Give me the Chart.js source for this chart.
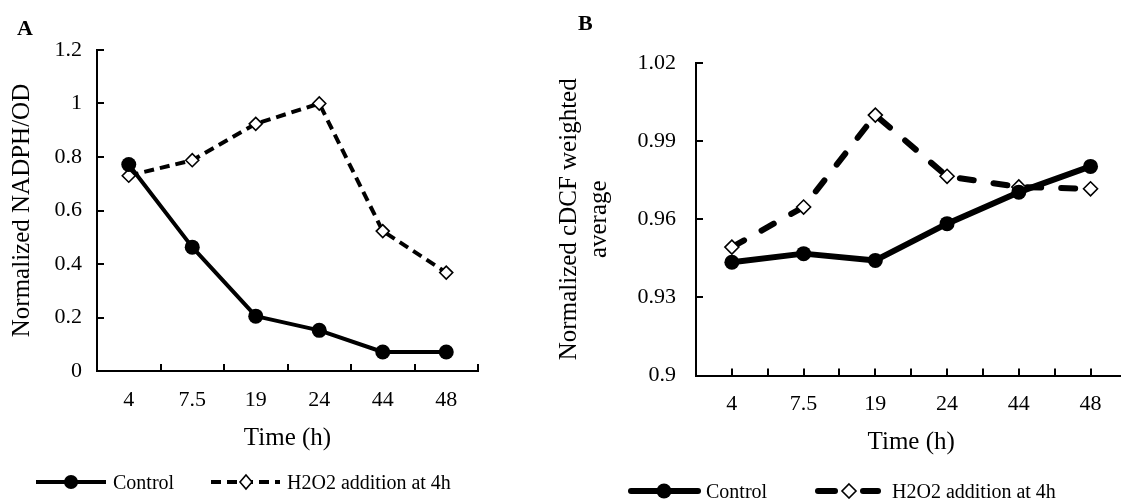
<!DOCTYPE html>
<html><head><meta charset="utf-8">
<script src="https://cdn.jsdelivr.net/npm/chart.js@4.4.1/dist/chart.umd.min.js"></script>
<style>
html,body{margin:0;padding:0;background:#fff;overflow:hidden;width:1121px;height:499px;position:relative;}
canvas{position:absolute;top:0;}
#ca{left:0;}
#cb{left:545px;}
.pl{position:absolute;font:bold 22px "Liberation Serif";color:#000;line-height:1;}
.lt{position:absolute;font:20px "Liberation Serif";color:#000;line-height:20px;white-space:nowrap;}
#leg{position:absolute;left:0;top:0;}
</style></head>
<body>
<canvas id="ca" width="560" height="499"></canvas>
<canvas id="cb" width="590" height="499"></canvas>
<div class="pl" style="left:17px;top:17px;">A</div>
<div class="pl" style="left:578px;top:12px;">B</div>
<svg id="leg" width="1121" height="499">
  <line x1="36" y1="482" x2="106" y2="482" stroke="#000" stroke-width="4"/>
  <circle cx="71" cy="482" r="7" fill="#000"/>
  <line x1="211" y1="482" x2="280" y2="482" stroke="#000" stroke-width="4" stroke-dasharray="10,6"/>
  <path d="M246 475 L252 482 L246 489 L240 482 Z" fill="#fff" stroke="#000" stroke-width="1.6"/>
  <line x1="631" y1="491" x2="698" y2="491" stroke="#000" stroke-width="6" stroke-linecap="round"/>
  <circle cx="664" cy="491" r="7.5" fill="#000"/>
  <line x1="818" y1="491" x2="835" y2="491" stroke="#000" stroke-width="6" stroke-linecap="round"/>
  <line x1="863" y1="491" x2="878" y2="491" stroke="#000" stroke-width="6" stroke-linecap="round"/>
  <path d="M849 484 L856 491 L849 498 L842 491 Z" fill="#fff" stroke="#000" stroke-width="1.6"/>
</svg>
<div class="lt" style="left:113px;top:472px;">Control</div>
<div class="lt" style="left:287px;top:472px;">H2O2 addition at 4h</div>
<div class="lt" style="left:706px;top:481px;">Control</div>
<div class="lt" style="left:892px;top:481px;">H2O2 addition at 4h</div>
<script>
// ---- data ----
const timeLabels = ['4', '7.5', '19', '24', '44', '48'];
const nadphControl = [0.772, 0.463, 0.205, 0.152, 0.071, 0.071];
const nadphH2O2 = [0.730, 0.788, 0.924, 1.0, 0.523, 0.368];
const cdcfControl = [0.9435, 0.9468, 0.9442, 0.9583, 0.9704, 0.9803];
const cdcfH2O2 = [0.9493, 0.9647, 1.0, 0.9765, 0.9724, 0.9717];
const yTicksA = [0, 0.2, 0.4, 0.6, 0.8, 1, 1.2];
const yTicksB = [0.9, 0.93, 0.96, 0.99, 1.02];
const seriesNames = ['Control', 'H2O2 addition at 4h'];

const F = 'Liberation Serif';

const inwardTicks = {
  id: 'inwardTicks',
  beforeDatasetsDraw(chart, args, opts) {
    const {ctx, chartArea} = chart;
    const xs = chart.scales.x, ys = chart.scales.y;
    const len = opts.len || 7;
    ctx.save();
    ctx.strokeStyle = '#000';
    ctx.lineWidth = 2;
    ctx.beginPath();
    ys.ticks.forEach(t => {
      const y = Math.round(ys.getPixelForValue(t.value));
      ctx.moveTo(chartArea.left, y); ctx.lineTo(chartArea.left + len, y);
    });
    const n = xs.ticks.length;
    const w = (xs.right - xs.left) / n;
    for (let i = 1; i <= n; i++) {
      const x = Math.round(xs.left + i * w);
      ctx.moveTo(x, chartArea.bottom); ctx.lineTo(x, chartArea.bottom - len);
    }
    if (opts.centers) {
      xs.ticks.forEach((t, i) => {
        const x = Math.round(xs.getPixelForTick(i));
        ctx.moveTo(x, chartArea.bottom); ctx.lineTo(x, chartArea.bottom - len);
      });
    }
    ctx.stroke();
    ctx.restore();
  }
};

function makeChart(id, cfg) {
  return new Chart(document.getElementById(id), {
    type: 'line',
    data: {
      labels: timeLabels,
      datasets: [
        {
          label: seriesNames[0], data: cfg.control,
          borderColor: '#000', backgroundColor: '#000', borderWidth: cfg.lw,
          pointStyle: 'circle', pointRadius: cfg.cr, pointBackgroundColor: '#000',
          pointBorderColor: '#000', pointBorderWidth: 0, tension: 0, fill: false,
          borderJoinStyle: 'round'
        },
        {
          label: seriesNames[1], data: cfg.h2o2,
          borderColor: '#000', borderWidth: cfg.dlw, borderDash: cfg.dash,
          borderCapStyle: cfg.cap,
          pointStyle: 'rectRot', pointRadius: cfg.dr, pointBackgroundColor: '#fff',
          pointBorderColor: '#000', pointBorderWidth: 1.6, tension: 0, fill: false
        }
      ]
    },
    options: {
      responsive: false, animation: false, devicePixelRatio: 1,
      layout: { padding: cfg.pad },
      plugins: { legend: { display: false }, tooltip: { enabled: false },
                 inwardTicks: { len: 7, centers: cfg.centers } },
      scales: {
        x: {
          type: 'category', offset: true,
          grid: { display: false, drawTicks: false },
          border: { display: true, color: '#000', width: 2 },
          ticks: { color: '#000', font: { family: F, size: 22 }, padding: 16, maxRotation: 0, autoSkip: false },
          title: { display: true, text: 'Time (h)', color: '#000', font: { family: F, size: 25 }, padding: { top: 0, bottom: 0 } },
          afterFit: s => { s.height = 82; }
        },
        y: {
          min: cfg.ymin, max: cfg.ymax,
          afterBuildTicks: s => { s.ticks = cfg.yticks.map(v => ({ value: v })); },
          grid: { display: false, drawTicks: false },
          border: { display: true, color: '#000', width: 2 },
          ticks: { color: '#000', font: { family: F, size: 22 }, padding: cfg.ypad,
                   callback: v => String(+Number(v).toFixed(2)) },
          title: { display: true, text: cfg.ytitle, color: '#000', font: { family: F, size: 25, lineHeight: 1.2 },
                   padding: { top: cfg.ytp, bottom: 0 } },
          afterFit: s => { s.width = cfg.yw; }
        }
      }
    },
    plugins: [inwardTicks]
  });
}

makeChart('ca', {
  control: nadphControl, h2o2: nadphH2O2, lw: 4, cr: 7.5, dlw: 4, dash: [10, 6], cap: 'butt', dr: 6.5,
  pad: { left: 0, right: 82, top: 50, bottom: 46 }, ymin: 0, ymax: 1.2, yticks: yTicksA,
  ytitle: 'Normalized NADPH/OD', ytp: 7, yw: 97, ypad: 15, centers: false
});
makeChart('cb', {
  control: cdcfControl, h2o2: cdcfH2O2, lw: 6, cr: 7.5, dlw: 6, dash: [14, 20], cap: 'round', dr: 7,
  pad: { left: 0, right: 7, top: 63, bottom: 41.5 }, ymin: 0.9, ymax: 1.02, yticks: yTicksB,
  ytitle: ['Normalized cDCF weighted', 'average'], ytp: 9, yw: 151, ypad: 20, centers: true
});
</script>
</body></html>
